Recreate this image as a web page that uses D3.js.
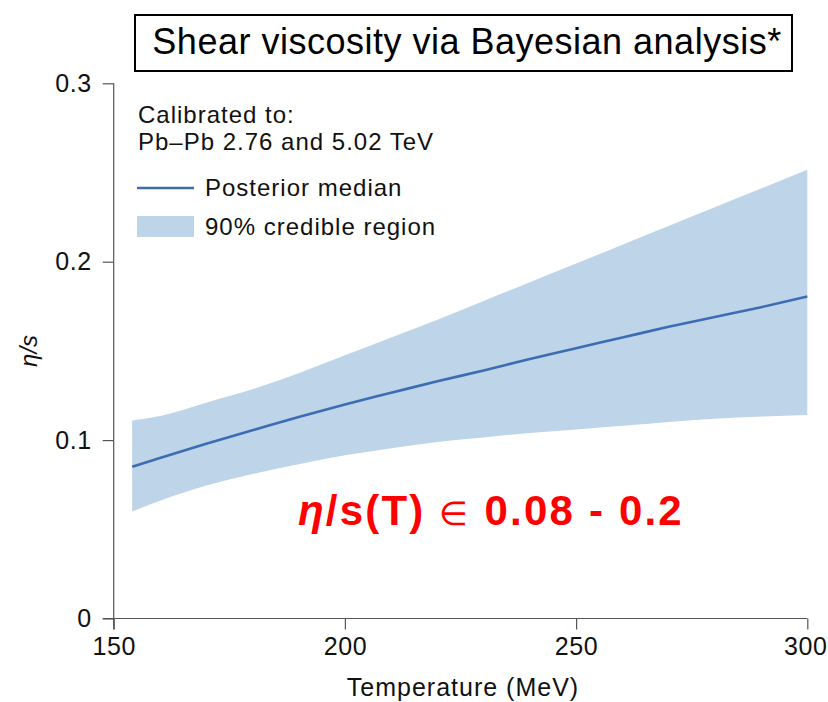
<!DOCTYPE html>
<html>
<head>
<meta charset="utf-8">
<script src="https://cdn.jsdelivr.net/npm/d3@7"></script>
<style>
  html, body { margin: 0; padding: 0; background: #fff; }
  svg { display: block; font-family: "Liberation Sans", Arial, Helvetica, sans-serif; }
</style>
</head>
<body>
<svg id="chart" width="828" height="702"></svg>
<script>
  // temperature grid (MeV) and eta/s
  var temps   = [154, 160, 170, 180, 190, 200, 210, 220, 230, 240, 250, 260, 270, 280, 290, 300];
  var median  = [0.085, 0.090, 0.098, 0.1055, 0.113, 0.120, 0.1265, 0.133, 0.139, 0.1455, 0.1515, 0.1575, 0.1635, 0.169, 0.1745, 0.1805];
  var upper   = [0.111, 0.1135, 0.121, 0.1285, 0.1375, 0.1475, 0.1575, 0.1675, 0.178, 0.1885, 0.199, 0.2095, 0.22, 0.2305, 0.241, 0.2515];
  var lower   = [0.060, 0.066, 0.0745, 0.081, 0.0865, 0.0915, 0.0955, 0.099, 0.1015, 0.104, 0.106, 0.108, 0.1102, 0.112, 0.1132, 0.114];
  var xTicks  = [150, 200, 250, 300];
  var yTicks  = [0, 0.1, 0.2, 0.3];
  var yTickLabels = ["0", "0.1", "0.2", "0.3"];

  var rows = temps.map(function(t, i){
    return {t: t, med: median[i], lo: lower[i], hi: upper[i]};
  });

  var svg = d3.select("#chart");
  var axisColor = "#555";
  var tickLen = 11;

  var x = d3.scaleLinear().domain([150, 300]).range([113.7, 807.3]);
  var y = d3.scaleLinear().domain([0, 0.3]).range([618.5, 83.3]);

  // credible band
  var band = d3.area()
    .x(function(d){ return x(d.t); })
    .y0(function(d){ return y(d.lo); })
    .y1(function(d){ return y(d.hi); })
    .curve(d3.curveMonotoneX);

  svg.append("path")
    .datum(rows)
    .attr("fill", "#bdd4e9")
    .attr("d", band);

  var line = d3.line()
    .x(function(d){ return x(d.t); })
    .y(function(d){ return y(d.med); })
    .curve(d3.curveMonotoneX);

  svg.append("path")
    .datum(rows)
    .attr("fill", "none")
    .attr("stroke", "#3c6db3")
    .attr("stroke-width", 2.6)
    .attr("d", line);

  // axes
  var xAxis = svg.append("g")
    .attr("transform", "translate(0," + y(0) + ")")
    .call(d3.axisBottom(x).tickValues(xTicks).tickSize(tickLen).tickPadding(8).tickSizeOuter(0));

  var yAxis = svg.append("g")
    .attr("transform", "translate(" + x(150) + ",0)")
    .call(d3.axisLeft(y).tickValues(yTicks).tickSize(tickLen).tickPadding(11)
      .tickFormat(function(d, i){ return yTickLabels[i]; }));

  [xAxis, yAxis].forEach(function(g){
    g.select(".domain").remove();
    g.selectAll(".tick line").attr("stroke", axisColor).attr("stroke-width", 1.2);
    g.selectAll(".tick text")
      .attr("fill", "#111")
      .style("font-size", "25px")
      .style("letter-spacing", "0.6px")
      .style("font-family", "'Liberation Sans', Arial, sans-serif");
  });
  // last x label sits right at the page edge
  xAxis.selectAll(".tick text").filter(function(d){ return d === 300; }).attr("dx", -2);

  // axis lines run past the origin by one tick length
  svg.append("line")
    .attr("x1", x(150) - tickLen).attr("x2", x(300))
    .attr("y1", y(0)).attr("y2", y(0))
    .attr("stroke", axisColor).attr("stroke-width", 1.2);
  svg.append("line")
    .attr("x1", x(150)).attr("x2", x(150))
    .attr("y1", y(0.3)).attr("y2", y(0) + tickLen)
    .attr("stroke", axisColor).attr("stroke-width", 1.2);

  // axis titles
  svg.append("text")
    .attr("x", 463)
    .attr("y", 696)
    .attr("text-anchor", "middle")
    .attr("fill", "#111")
    .style("font-size", "25px")
    .style("letter-spacing", "1px")
    .text("Temperature (MeV)");

  svg.append("text")
    .attr("transform", "translate(37," + y(0.15) + ") rotate(-90)")
    .attr("text-anchor", "middle")
    .attr("fill", "#111")
    .style("font-size", "24px")
    .style("font-style", "italic")
    .text("η/s");

  // title box
  svg.append("rect")
    .attr("x", 135).attr("y", 15)
    .attr("width", 657).attr("height", 56)
    .attr("fill", "#fff")
    .attr("stroke", "#000")
    .attr("stroke-width", 2);

  svg.append("text")
    .attr("x", 467)
    .attr("y", 54)
    .attr("text-anchor", "middle")
    .attr("fill", "#000")
    .style("font-size", "36px")
    .style("letter-spacing", "0.5px")
    .text("Shear viscosity via Bayesian analysis*");

  // legend
  var legend = svg.append("g")
    .style("font-size", "24px")
    .style("letter-spacing", "1px")
    .attr("fill", "#111");
  legend.append("text").attr("x", 138).attr("y", 123).text("Calibrated to:");
  legend.append("text").attr("x", 138).attr("y", 150).text("Pb–Pb 2.76 and 5.02 TeV");
  legend.append("line")
    .attr("x1", 137).attr("x2", 194)
    .attr("y1", 188).attr("y2", 188)
    .attr("stroke", "#3c6db3").attr("stroke-width", 2.6);
  legend.append("text").attr("x", 205).attr("y", 196).text("Posterior median");
  legend.append("rect")
    .attr("x", 137).attr("y", 216)
    .attr("width", 57).attr("height", 21)
    .attr("fill", "#bdd4e9");
  legend.append("text").attr("x", 205).attr("y", 235).text("90% credible region");

  // red annotation
  var note = svg.append("text")
    .attr("x", 298)
    .attr("y", 525)
    .attr("fill", "#ff0000")
    .style("font-size", "42px")
    .style("letter-spacing", "2.2px")
    .style("font-weight", "bold");
  note.append("tspan").style("font-style", "italic").text("η");
  note.append("tspan").text("/s(T) ");
  note.append("tspan").style("font-size", "33px").style("font-weight", "normal").text("∈");
  note.append("tspan").text(" 0.08 - 0.2");
</script>
</body>
</html>
